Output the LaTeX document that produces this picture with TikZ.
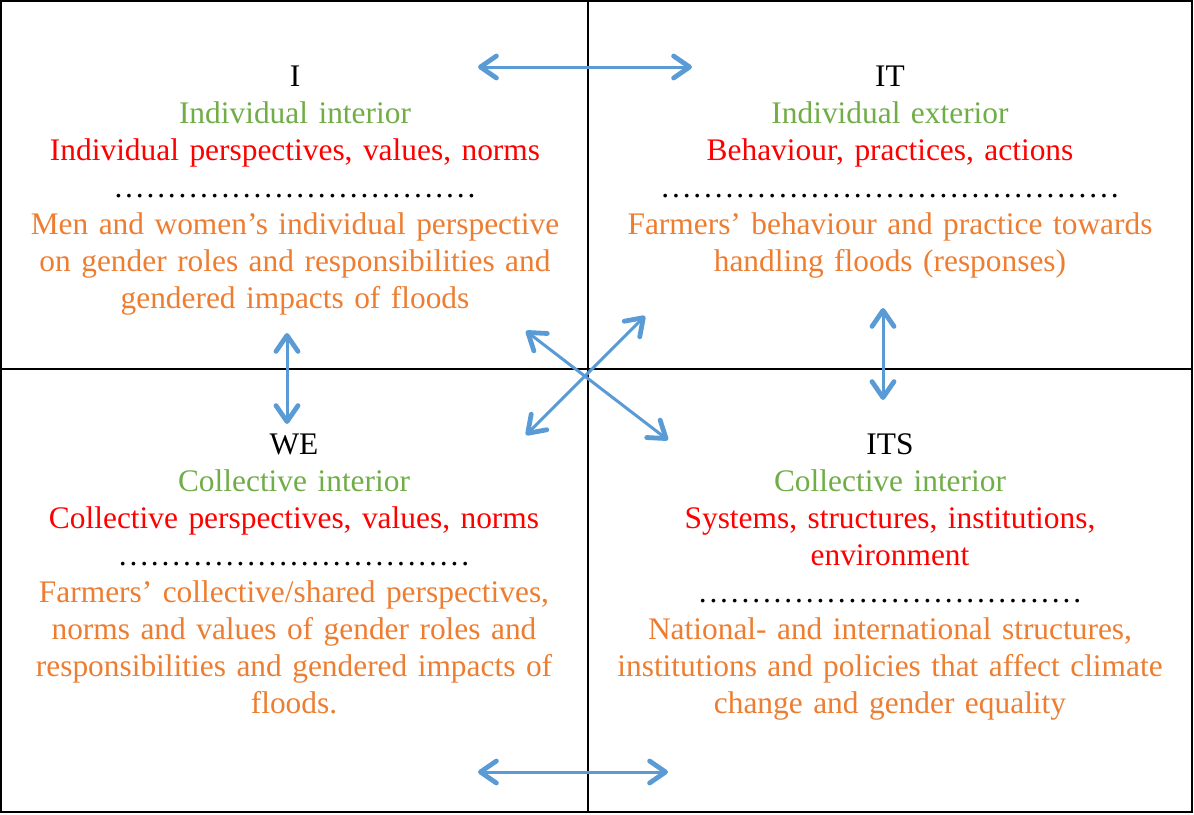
\documentclass[tikz,border=0pt]{standalone}
\usepackage{fontspec}
\setmainfont{Liberation Serif}
\usetikzlibrary{arrows.meta}
\definecolor{qgreen}{HTML}{70AD47}
\definecolor{qred}{HTML}{FF0000}
\definecolor{qorange}{HTML}{ED7D31}
\definecolor{qblue}{HTML}{5B9BD5}
\tikzstyle{quad} = [anchor=base, inner sep=0pt, text width=290pt, align=center,
    font=\fontsize{15.7}{18.5}\selectfont]
\tikzstyle{link} = [qblue, line width=1.5pt,
    {Straight Barb[length=8pt,width=11pt,line width=2.4pt,round]}-{Straight Barb[length=8pt,width=11pt,line width=2.4pt,round]}]
\newcommand{\grn}[1]{\textcolor{qgreen}{#1}}
\newcommand{\rd}[1]{\textcolor{qred}{#1}}
\newcommand{\org}[1]{\textcolor{qorange}{#1}}
% row of evenly spaced dots, #1 = number of dots
\newcommand{\dotrow}[1]{\leavevmode\hbox to #1\dimexpr5.35pt\relax{\xleaders\hbox to 5.35pt{\hss.\hss}\hfill}}

\begin{document}
\begin{tikzpicture}[x=0.5pt,y=-0.5pt]
  \useasboundingbox (0,0) rectangle (1194,814);

  % frame and quadrant lines
  \draw[line width=1pt] (1,1) rectangle (1192,812);
  \draw[line width=1pt] (588,1) -- (588,812);
  \draw[line width=1pt] (1,369) -- (1192,369);

  \node[quad] (i) at (295,86) {I\\
    \grn{Individual interior}\\
    \rd{Individual perspectives, values, norms}\\
    \dotrow{34}\\
    \org{Men and women’s individual perspective}\\
    \org{on gender roles and responsibilities and}\\
    \org{gendered impacts of floods}};
  \node[quad] (it) at (890,86) {IT\\
    \grn{Individual exterior}\\
    \rd{Behaviour, practices, actions}\\
    \dotrow{43}\\
    \org{Farmers’ behaviour and practice towards}\\
    \org{handling floods (responses)}};
  \node[quad] (we) at (294,454) {WE\\
    \grn{Collective interior}\\
    \rd{Collective perspectives, values, norms}\\
    \dotrow{33}\\
    \org{Farmers’ collective/shared perspectives,}\\
    \org{norms and values of gender roles and}\\
    \org{responsibilities and gendered impacts of}\\
    \org{floods.}};
  \node[quad] (its) at (890,454) {ITS\\
    \grn{Collective interior}\\
    \rd{Systems, structures, institutions,}\\
    \rd{environment}\\
    \dotrow{36}\\
    \org{National- and international structures,}\\
    \org{institutions and policies that affect climate}\\
    \org{change and gender equality}};

  % arrow ends
  \coordinate (top-l) at (478,67);
  \coordinate (top-r) at (692,67);
  \coordinate (bot-l) at (478,772);
  \coordinate (bot-r) at (668,772);
  \coordinate (lft-t) at (287,333);
  \coordinate (lft-b) at (287,424);
  \coordinate (rgt-t) at (883,308);
  \coordinate (rgt-b) at (883,400);
  \coordinate (dg1-a) at (526,331);
  \coordinate (dg1-b) at (668,440);
  \coordinate (dg2-a) at (526,435);
  \coordinate (dg2-b) at (645,316);

  \draw[link] (top-l) -- (top-r);
  \draw[link] (bot-l) -- (bot-r);
  \draw[link] (lft-t) -- (lft-b);
  \draw[link] (rgt-t) -- (rgt-b);
  \draw[link] (dg1-a) -- (dg1-b);
  \draw[link] (dg2-a) -- (dg2-b);
\end{tikzpicture}
\end{document}
